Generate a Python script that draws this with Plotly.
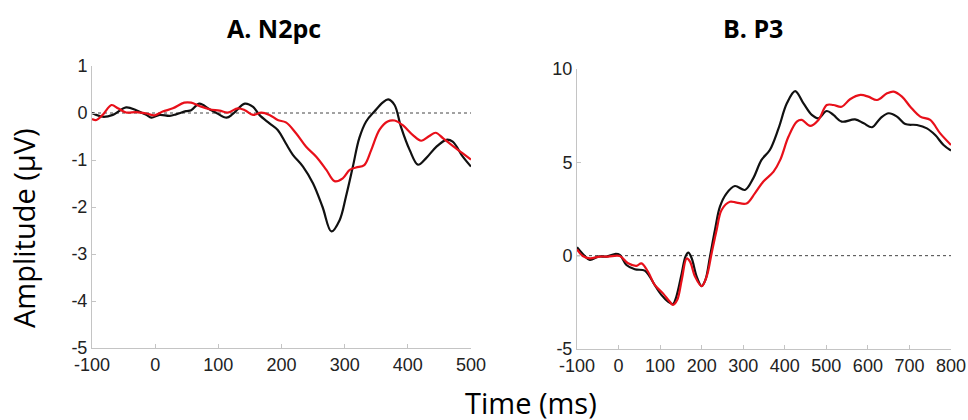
import plotly.graph_objects as go

# ---- Data: Panel A (N2pc) ----
n2pc_black_t = [-100, -83, -67, -46, -30, -14, -6, 7, 23, 33, 49, 57, 70, 86, 97, 113, 123, 142, 155, 165,
                181, 194, 207, 218, 234, 250, 265, 279, 292, 302, 313, 323, 334, 347, 360, 369, 379, 389,
                403, 416, 429, 445, 461, 471, 487, 500]
n2pc_black_v = [0.0, -0.08, -0.04, 0.12, 0.06, -0.04, -0.1, -0.04, -0.06, -0.03, 0.04, 0.06, 0.2, 0.08, 0.0,
                -0.1, -0.02, 0.2, 0.13, -0.04, -0.22, -0.36, -0.65, -0.89, -1.14, -1.5, -2.0, -2.52, -2.28,
                -1.78, -1.14, -0.54, -0.18, 0.03, 0.22, 0.29, 0.17, -0.29, -0.79, -1.1, -0.96, -0.72, -0.57,
                -0.61, -0.93, -1.14]
n2pc_red_t = [-100, -93, -83, -69, -59, -46, -30, -14, -1, 12, 28, 46, 57, 70, 86, 102, 115, 131, 142, 155,
              168, 181, 194, 207, 223, 239, 255, 271, 284, 297, 308, 318, 331, 342, 355, 368, 379, 392, 408,
              421, 434, 444, 456, 471, 487, 500]
n2pc_red_v = [-0.13, -0.15, -0.04, 0.17, 0.1, 0.01, 0.02, -0.01, -0.05, 0.03, 0.1, 0.22, 0.22, 0.15, 0.08,
              0.05, 0.01, 0.1, 0.06, -0.04, 0.01, -0.04, -0.15, -0.2, -0.43, -0.72, -0.93, -1.21, -1.45,
              -1.39, -1.21, -1.16, -1.11, -0.79, -0.36, -0.18, -0.16, -0.26, -0.47, -0.59, -0.49, -0.42,
              -0.54, -0.7, -0.86, -0.99]

# ---- Data: Panel B (P3) ----
p3_black_t = [-100, -86, -69, -49, -29, -9, 3, 19, 39, 63, 75, 87, 103, 119, 131, 139, 152, 161, 168, 176,
              188, 200, 209, 220, 232, 244, 260, 280, 304, 324, 344, 364, 385, 405, 425, 445, 465, 481, 501,
              517, 537, 569, 590, 610, 630, 650, 670, 690, 718, 742, 762, 782, 800]
p3_black_v = [0.45, 0.09, -0.23, -0.05, -0.05, 0.09, 0.04, -0.5, -0.73, -0.8, -1.12, -1.57, -2.1, -2.46,
              -2.59, -2.2, -0.95, -0.05, 0.16, -0.14, -1.12, -1.63, -1.3, -0.05, 1.38, 2.63, 3.34, 3.73,
              3.52, 4.14, 5.13, 5.66, 6.82, 8.16, 8.82, 8.16, 7.54, 7.36, 7.75, 7.54, 7.18, 7.3, 7.09, 6.88,
              7.36, 7.63, 7.45, 7.05, 7.0, 6.82, 6.46, 5.93, 5.63]
p3_red_t = [-100, -86, -69, -45, -25, 3, 23, 43, 55, 71, 87, 107, 123, 131, 141, 152, 164, 172, 184, 200,
            212, 224, 236, 248, 268, 284, 308, 328, 348, 373, 389, 409, 429, 441, 461, 481, 501, 517, 537,
            557, 582, 601, 622, 646, 662, 682, 702, 726, 750, 774, 800]
p3_red_v = [0.34, -0.02, -0.14, -0.05, -0.05, -0.02, -0.41, -0.55, -0.41, -0.86, -1.57, -2.02, -2.46, -2.64,
            -2.38, -1.3, -0.15, -0.32, -1.12, -1.63, -1.12, 0.13, 1.38, 2.45, 2.89, 2.84, 2.8, 3.34, 3.96,
            4.5, 5.13, 6.38, 7.18, 7.27, 6.95, 7.27, 8.07, 8.07, 7.98, 8.38, 8.61, 8.52, 8.34, 8.7, 8.79,
            8.52, 7.98, 7.45, 7.27, 6.55, 5.93]

# ---- Axis ticks ----
n2pc_x_ticks = [-100, 0, 100, 200, 300, 400, 500]
n2pc_y_ticks = [-5, -4, -3, -2, -1, 0, 1]
p3_x_ticks = [-100, 0, 100, 200, 300, 400, 500, 600, 700, 800]
p3_y_ticks = [-5, 0, 5, 10]

panel_titles = ["A. N2pc", "B. P3"]
x_title = "Time (ms)"
y_title = "Amplitude (µV)"

BLACK = "#111111"
RED = "#e8101a"
W, H = 968, 420

fig = go.Figure()

def line(t, v, color, xa, ya):
    fig.add_trace(go.Scatter(x=t, y=v, mode="lines", xaxis=xa, yaxis=ya,
                             line=dict(color=color, width=2.2, shape="spline", smoothing=1.0),
                             showlegend=False, hoverinfo="skip"))

line(n2pc_black_t, n2pc_black_v, BLACK, "x", "y")
line(n2pc_red_t, n2pc_red_v, RED, "x", "y")
line(p3_black_t, p3_black_v, BLACK, "x2", "y2")
line(p3_red_t, p3_red_v, RED, "x2", "y2")

def px_x(p):
    return p / W

def px_y(p):
    return (H - p) / H

def labels(vals):
    return [str(v) for v in vals]  # plain hyphen-minus like the reference

tickfont = dict(family="Liberation Sans, Arial, sans-serif", size=18, color="#222222")
axis_common = dict(showline=True, linecolor="#c4c4c4", linewidth=1, ticks="inside", ticklen=4,
                   tickcolor="#c4c4c4", showgrid=False, zeroline=False, tickfont=tickfont,
                   fixedrange=True, automargin=False)

fig.update_layout(
    width=W, height=H,
    margin=dict(l=0, r=0, t=0, b=0, autoexpand=False),
    paper_bgcolor="white", plot_bgcolor="white",
    xaxis=dict(domain=[px_x(92), px_x(471)], range=[-100, 500], tickvals=n2pc_x_ticks,
               ticktext=labels(n2pc_x_ticks), anchor="y", **axis_common),
    yaxis=dict(domain=[px_y(348), px_y(66)], range=[-5, 1], tickvals=n2pc_y_ticks,
               ticktext=labels(n2pc_y_ticks), anchor="x", **axis_common),
    xaxis2=dict(domain=[px_x(577), px_x(951)], range=[-100, 800], tickvals=p3_x_ticks,
                ticktext=labels(p3_x_ticks), anchor="y2", **axis_common),
    yaxis2=dict(domain=[px_y(349), px_y(69)], range=[-5, 10], tickvals=p3_y_ticks,
                ticktext=labels(p3_y_ticks), anchor="x2", **axis_common),
)

# dotted zero reference lines
fig.add_shape(type="line", xref="x", yref="y", x0=-100, x1=500, y0=0, y1=0,
              line=dict(color="#444444", width=1, dash="dot"), layer="below")
fig.add_shape(type="line", xref="x2", yref="y2", x0=-100, x1=800, y0=0, y1=0,
              line=dict(color="#444444", width=1, dash="dot"), layer="below")

title_font = dict(family="Open Sans, sans-serif", size=25, color="black", weight="bold")
fig.add_annotation(text=panel_titles[0], xref="paper", yref="paper", x=px_x(274), y=px_y(28),
                   xanchor="center", yanchor="middle", showarrow=False, font=title_font)
fig.add_annotation(text=panel_titles[1], xref="paper", yref="paper", x=px_x(753), y=px_y(28),
                   xanchor="center", yanchor="middle", showarrow=False, font=title_font)

axis_title_font = dict(family="Open Sans, sans-serif", size=29, color="black")
fig.add_annotation(text=x_title, xref="paper", yref="paper", x=px_x(531), y=px_y(402),
                   xanchor="center", yanchor="middle", showarrow=False, font=axis_title_font)
fig.add_annotation(text=y_title, xref="paper", yref="paper", x=px_x(23), y=px_y(228),
                   xanchor="center", yanchor="middle", showarrow=False, textangle=-90,
                   font=axis_title_font)

fig.write_html("out.html", config={"displayModeBar": False},
               post_script="document.body.style.margin='0px';document.body.style.padding='0px';"
                           "document.body.style.overflow='hidden';")
